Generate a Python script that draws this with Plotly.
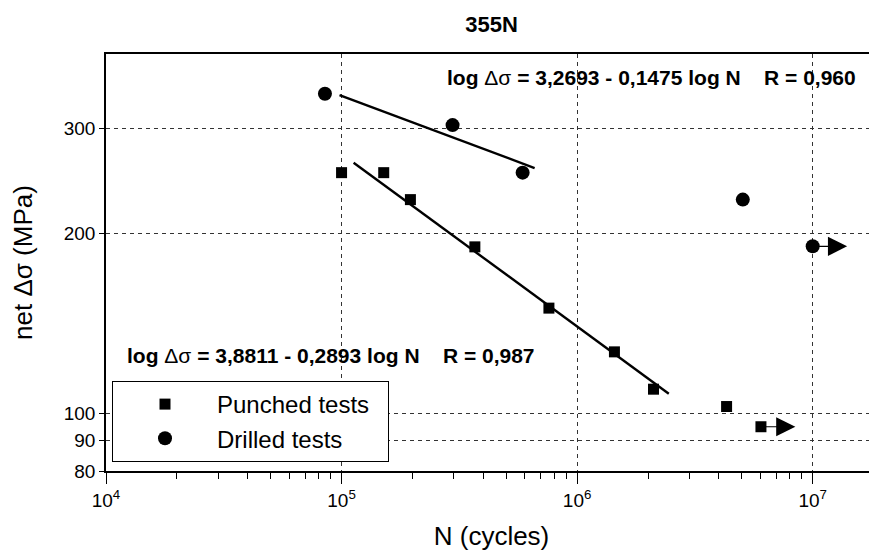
import numpy as np
import plotly.graph_objects as go

# ---- data ----
punched_N = [1.0e5, 1.51e5, 1.96e5, 3.68e5, 7.59e5, 1.44e6, 2.11e6, 4.31e6, 6.03e6]
punched_S = [253, 253, 228, 190, 150, 126.7, 109.7, 102.6, 94.9]
drilled_N = [8.5e4, 2.96e5, 5.87e5, 5.05e6, 1.0e7]
drilled_S = [343, 304, 253, 228, 190.4]

# runouts (marked with arrows): last point of each series
runout_punched = [(6.03e6, 94.9)]
runout_drilled = [(1.0e7, 190.4)]

# regression lines: log S = a - b log N
punched_fit = dict(a=3.8811, b=0.2893, N_from=1.125e5, N_to=2.45e6)
drilled_fit = dict(a=3.2693, b=0.1475, N_from=9.8e4, N_to=6.6e5)

x_tick_vals = [1e4, 1e5, 1e6, 1e7]
x_tick_text = ["10<sup>4</sup>", "10<sup>5</sup>", "10<sup>6</sup>", "10<sup>7</sup>"]
y_tick_vals = [80, 90, 100, 200, 300]
y_tick_text = ["80", "90", "100", "200", "300"]

FONT = "Liberation Sans, Arial, sans-serif"

# the page body adds an 8px offset, so the figure is drawn 8px smaller
OFF = 8
W, H = 877 - OFF, 551 - OFF
L, T, B, R = 106 - OFF, 54 - OFF, 80, 0
PW, PH = W - L - R, H - T - B


def px_x(p):
    return (p - OFF - L) / PW


def px_y(p):
    return (H - B - (p - OFF)) / PH


def fit_line(f):
    n = np.array([f["N_from"], f["N_to"]])
    return n, 10 ** (f["a"] - f["b"] * np.log10(n))


fig = go.Figure()

for f in (drilled_fit, punched_fit):
    xn, ys = fit_line(f)
    fig.add_trace(go.Scatter(x=xn, y=ys, mode="lines", showlegend=False,
                             line=dict(color="black", width=2.4), hoverinfo="skip"))

fig.add_trace(go.Scatter(x=punched_N, y=punched_S, mode="markers", name="Punched tests\u00a0\u00a0",
                         marker=dict(symbol="square", size=11, color="black")))
fig.add_trace(go.Scatter(x=drilled_N, y=drilled_S, mode="markers", name="Drilled tests",
                         marker=dict(symbol="circle", size=14, color="black")))

annotations = []
for (n, s) in runout_punched + runout_drilled:
    annotations.append(dict(x=np.log10(n * 1.40), y=np.log10(s), ax=np.log10(n), ay=np.log10(s),
                            xref="x", yref="y", axref="x", ayref="y", text="",
                            showarrow=True, arrowhead=2, arrowsize=3.2, arrowwidth=1.2,
                            arrowcolor="black"))

eq_font = dict(family=FONT, size=21, color="black")
annotations.append(dict(xref="paper", yref="paper", x=px_x(445), y=px_y(78),
                        xanchor="left", yanchor="middle", showarrow=False, font=eq_font,
                        text="<b>log <span style='font-weight:normal'>Δσ</span> = 3,2693 - 0,1475 log N\u00a0\u00a0\u00a0 R = 0,960</b>"))
annotations.append(dict(xref="paper", yref="paper", x=px_x(125), y=px_y(355),
                        xanchor="left", yanchor="middle", showarrow=False, font=eq_font,
                        text="<b>log <span style='font-weight:normal'>Δσ</span> = 3,8811 - 0,2893 log N\u00a0\u00a0\u00a0 R = 0,987</b>"))

minor_vals = [d * 10 ** e for e in range(4, 8) for d in range(2, 10)]

fig.update_layout(
    width=W, height=H,
    margin=dict(l=L, r=R, t=T, b=B),
    paper_bgcolor="white", plot_bgcolor="white",
    font=dict(family=FONT, color="black"),
    title=dict(text="<b>355N</b>", x=0.5, xref="paper", xanchor="center",
               y=1 - (24 - OFF) / H, yanchor="middle", font=dict(family=FONT, size=22, color="black")),
    showlegend=True,
    legend=dict(x=px_x(112), y=px_y(381), xanchor="left", yanchor="top",
                bordercolor="black", borderwidth=1, bgcolor="white",
                font=dict(family=FONT, size=24, color="black"), itemwidth=94,
                tracegroupgap=0),
    annotations=annotations,
)

fig.update_xaxes(
    type="log", range=[4, 7.273], tickvals=x_tick_vals, ticktext=x_tick_text,
    showline=True, linecolor="black", linewidth=1.5, mirror=True,
    ticks="outside", ticklen=11, tickcolor="black", tickwidth=1,
    tickfont=dict(family=FONT, size=19, color="black"),
    showgrid=True, gridcolor="#333", gridwidth=1, griddash="4px,4px",
    zeroline=False,
    minor=dict(tickvals=minor_vals, ticks="outside", ticklen=6, tickcolor="black", showgrid=False),
    title=dict(text="N (cycles)", font=dict(family=FONT, size=26, color="black"), standoff=18),
    automargin=False,
)
fig.update_yaxes(
    type="log", range=[np.log10(80), 2.602], tickvals=y_tick_vals, ticktext=y_tick_text,
    showline=True, linecolor="black", linewidth=1.5, mirror=False,
    ticks="outside", ticklen=5, tickcolor="black", tickwidth=1,
    tickfont=dict(family=FONT, size=19, color="black"),
    showgrid=True, gridcolor="#333", gridwidth=1, griddash="4px,4px",
    zeroline=False,
    title=dict(text="net Δσ (MPa)", font=dict(family=FONT, size=26, color="black"), standoff=24),
    automargin=False,
)

fig.write_html("out.html")
